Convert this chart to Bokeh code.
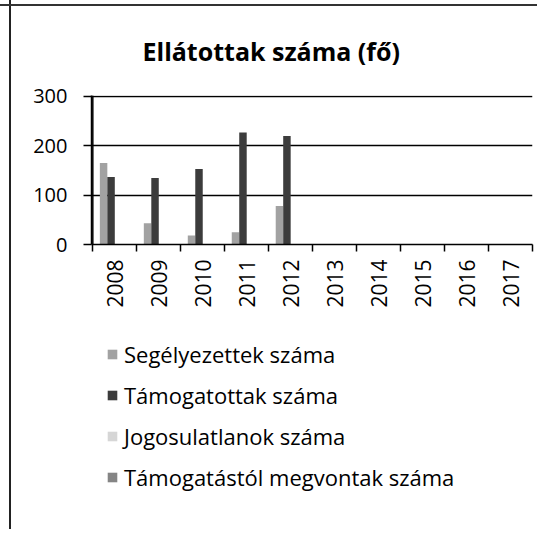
from bokeh.plotting import figure
from bokeh.models import ColumnDataSource, FixedTicker, Legend, LegendItem, Range1d, Span
from bokeh.layouts import column
from bokeh.transform import dodge
from bokeh.embed import file_html
from bokeh.resources import INLINE

years = ["2008", "2009", "2010", "2011", "2012", "2013", "2014", "2015", "2016", "2017"]
segelyezettek = [165, 43, 18, 25, 78, 0, 0, 0, 0, 0]
tamogatottak = [137, 135, 153, 227, 220, 0, 0, 0, 0, 0]
jogosulatlanok = [0, 0, 0, 0, 0, 0, 0, 0, 0, 0]
megvontak = [0, 0, 0, 0, 0, 0, 0, 0, 0, 0]
series_names = ["Segélyezettek száma", "Támogatottak száma",
                "Jogosulatlanok száma", "Támogatástól megvontak száma"]
y_ticks = [0, 100, 200, 300]

xpos = [i + 0.5 for i in range(len(years))]
src = ColumnDataSource(dict(x=xpos, s=segelyezettek, t=tamogatottak,
                            j=jogosulatlanok, m=megvontak))

FONT = "Open Sans"
BOX_LEFT = "linear-gradient(to right, transparent 9px, #222 9px, #222 11px, transparent 11px)"
BOX_TOP = "linear-gradient(to bottom, transparent 4px, #333 4px, #333 6px, transparent 6px)"

p = figure(frame_width=441, frame_height=149, output_backend="svg", toolbar_location=None,
           x_range=Range1d(-0.03, len(years)), y_range=Range1d(0, 302),
           min_border_left=91, min_border_right=5, min_border_top=95,
           min_border_bottom=80)
p.border_fill_color = None
p.background_fill_color = None
p.styles = {"background": BOX_TOP + ", " + BOX_LEFT}

colors = ["#a2a2a2", "#3c3c3c", "#d6d6d6", "#858585"]
cols = ["s", "t", "j", "m"]
offsets = [-0.255, -0.085, 0.085, 0.255]
for c, off, col in zip(cols, offsets, colors):
    p.vbar(x=dodge("x", off), top=c, width=0.17, source=src,
           fill_color=col, line_color=None)

# axes
p.xaxis.ticker = FixedTicker(ticks=xpos, minor_ticks=list(range(len(years) + 1)))
p.xaxis.major_label_overrides = {x: y for x, y in zip(xpos, years)}
p.xaxis.major_label_orientation = 1.5708
p.xaxis.major_tick_line_color = None
p.xaxis.minor_tick_out = 7
p.xaxis.minor_tick_in = 0
p.xaxis.minor_tick_line_color = "black"
p.xaxis.minor_tick_line_width = 1.5
p.xaxis.axis_line_color = "black"
p.xaxis.axis_line_width = 1.5
p.xaxis.major_label_text_font = FONT
p.xaxis.major_label_text_font_size = "21px"
p.xaxis.major_label_text_color = "black"
p.xaxis.major_label_standoff = 8

p.yaxis.ticker = FixedTicker(ticks=y_ticks)
p.yaxis.minor_tick_line_color = None
p.yaxis.major_tick_out = 8
p.yaxis.major_tick_in = 0
p.yaxis.major_tick_line_color = "black"
p.yaxis.major_tick_line_width = 1.5
p.yaxis.axis_line_color = "black"
p.yaxis.axis_line_width = 1.5
p.yaxis.major_label_text_font = FONT
p.yaxis.major_label_text_font_size = "20px"
p.yaxis.major_label_text_color = "black"
p.yaxis.major_label_standoff = 16

p.add_layout(Span(location=0, dimension="height", line_color="black", line_width=1.5))

p.xgrid.grid_line_color = None
p.ygrid.ticker = FixedTicker(ticks=y_ticks)
p.ygrid.grid_line_color = "black"
p.ygrid.grid_line_width = 1.5
p.outline_line_color = None

p.title.text = "Ellátottak száma (fő)"
p.title.text_font = FONT
p.title.text_font_size = "25px"
p.title.text_font_style = "bold"
p.title.text_color = "black"
p.title.align = "left"
p.title.offset = 51
p.title.standoff = 56

# legend figure (same series, drawn outside its visible y range)
q = figure(width=537, height=205, output_backend="svg", toolbar_location=None,
           x_range=Range1d(0, len(years)), y_range=Range1d(1000, 1001),
           min_border_left=91, min_border_right=5, min_border_top=0, min_border_bottom=0)
q.border_fill_color = None
q.background_fill_color = None
q.styles = {"background": BOX_LEFT}
q.axis.visible = False
q.grid.grid_line_color = None
q.outline_line_color = None
items = []
for n, c, col in zip(series_names, cols, colors):
    r = q.vbar(x="x", top=c, width=0.17, source=src, fill_color=col, line_color=None)
    items.append(LegendItem(label=n, renderers=[r]))
legend = Legend(items=items, orientation="vertical", location="top_left")
legend.label_text_font = FONT
legend.label_text_font_size = "22px"
legend.label_text_color = "black"
legend.glyph_width = 12
legend.glyph_height = 12
legend.label_height = 30
legend.spacing = 11
legend.margin = 15
legend.padding = 0
legend.label_standoff = 6
legend.border_line_color = None
legend.background_fill_alpha = 0
q.add_layout(legend, "center")

layout = column(p, q, spacing=0)
open("out.html", "w").write(file_html(layout, INLINE))
